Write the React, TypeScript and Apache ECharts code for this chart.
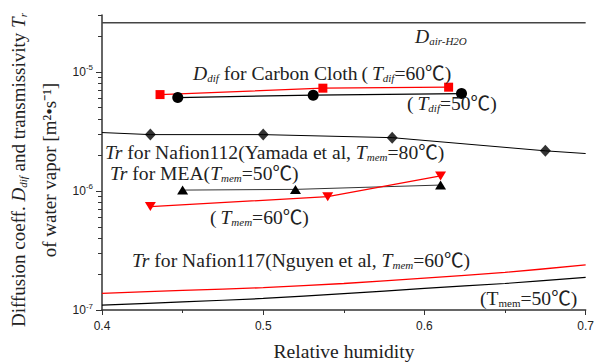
import React, { useEffect, useRef } from 'react';
import * as echarts from 'echarts';

// ---- data ----
const xTickValues = [0.4, 0.5, 0.6, 0.7];
const yMajorTicks = [1e-7, 1e-6, 1e-5];
const yMinorTicks = [
  2e-7, 3e-7, 4e-7, 5e-7, 6e-7, 7e-7, 8e-7, 9e-7,
  2e-6, 3e-6, 4e-6, 5e-6, 6e-6, 7e-6, 8e-6, 9e-6,
  2e-5, 3e-5,
];

const dAirH2O = [[0.4, 2.58e-5], [0.7, 2.58e-5]];
const clothT60 = [[0.436, 6.44e-6], [0.537, 7.29e-6], [0.615, 7.43e-6]];
const clothT50 = [[0.447, 6.08e-6], [0.531, 6.37e-6], [0.623, 6.57e-6]];
const nafion112Line = [
  [0.4, 3.09e-6], [0.43, 2.97e-6], [0.5, 2.97e-6], [0.58, 2.8e-6], [0.675, 2.17e-6], [0.7, 2.06e-6],
];
const nafion112Points = [[0.43, 2.97e-6], [0.5, 2.97e-6], [0.58, 2.8e-6], [0.675, 2.17e-6]];
const meaT50 = [[0.45, 1.016e-6], [0.52, 1.03e-6], [0.61, 1.12e-6]];
const meaT60 = [[0.43, 7.38e-7], [0.54, 8.95e-7], [0.61, 1.336e-6]];
const rhGrid = [0.4, 0.45, 0.5, 0.55, 0.6, 0.65, 0.7];
const nafion117T60 = [1.38e-7, 1.46e-7, 1.54e-7, 1.67e-7, 1.85e-7, 2.07e-7, 2.39e-7];
const nafion117T50 = [1.1e-7, 1.17e-7, 1.25e-7, 1.37e-7, 1.52e-7, 1.67e-7, 1.88e-7];

const SERIF = "'Liberation Serif', 'Noto Sans CJK JP', serif";
const SANS = "'Liberation Sans', Arial, sans-serif";
const INK = '#222';
const RED = '#ff0000';

function makeRich(fs: number) {
  return {
    n: { fontFamily: SERIF, fontSize: fs, fill: INK, color: INK, lineHeight: 20 },
    i: { fontStyle: 'italic', fontFamily: SERIF, fontSize: fs, fill: INK, color: INK, lineHeight: 20 },
    s: { fontStyle: 'italic', fontFamily: SERIF, fontSize: 11, fill: INK, color: INK, lineHeight: 6, verticalAlign: 'bottom' },
    u: { fontFamily: SERIF, fontSize: 11, fill: INK, color: INK, lineHeight: 6, verticalAlign: 'bottom' },
  };
}

function txt(x: number, y: number, text: string, fs = 19.6, extra: any = {}, styleExtra: any = {}) {
  return {
    type: 'text',
    x,
    y,
    z: 100,
    ...extra,
    style: {
      text,
      font: `${fs}px ${SERIF}`,
      fontFamily: SERIF,
      fontSize: fs,
      fill: INK,
      lineHeight: 20,
      align: 'left',
      verticalAlign: 'middle',
      rich: makeRich(fs),
      ...styleExtra,
    },
  };
}

export default function App() {
  const ref = useRef<HTMLDivElement>(null);

  useEffect(() => {
    if (!ref.current) return;
    const chart = echarts.init(ref.current, undefined, { renderer: 'svg' });
    const grid = { left: 102, top: 15, width: 487, height: 295 };
    const axisLineStyle = { color: '#333', width: 1.5 };

    const option: any = {
      animation: false,
      backgroundColor: '#fff',
      grid,
      xAxis: {
        type: 'value',
        min: 0.4,
        max: 0.7,
        interval: 0.1,
        axisLine: { show: true, onZero: false, lineStyle: axisLineStyle },
        axisTick: { show: true, inside: false, length: 5, lineStyle: { color: '#333', width: 1 }, customValues: xTickValues },
        minorTick: { show: true, splitNumber: 2, length: 3, lineStyle: { color: '#333', width: 1 } },
        splitLine: { show: false },
        axisLabel: {
          fontFamily: SANS,
          fontSize: 12,
          color: INK,
          margin: 10,
          customValues: xTickValues,
          formatter: (v: number) => v.toFixed(1),
        },
      },
      yAxis: [
        {
          type: 'log',
          logBase: 10,
          min: 1e-7,
          max: 3e-5,
          axisLine: { show: true, onZero: false, lineStyle: axisLineStyle },
          axisTick: { show: true, inside: false, length: 6, customValues: yMajorTicks, lineStyle: { color: '#333', width: 1 } },
          minorTick: { show: false },
          splitLine: { show: false },
          axisLabel: {
            customValues: yMajorTicks,
            fontFamily: SANS,
            fontSize: 12,
            color: INK,
            lineHeight: 16,
            margin: 9,
            formatter: (v: number) => `10{sup|${Math.round(Math.log10(v))}}`,
            rich: {
              sup: { fontFamily: SANS, fontSize: 8, color: INK, lineHeight: 6, verticalAlign: 'top' },
            },
          },
        },
        {
          type: 'log',
          logBase: 10,
          min: 1e-7,
          max: 3e-5,
          position: 'left',
          axisLine: { show: false },
          axisTick: { show: true, inside: false, length: 4, customValues: yMinorTicks, lineStyle: { color: '#333', width: 1 } },
          axisLabel: { show: false },
          splitLine: { show: false },
        },
      ],
      series: [
        {
          type: 'line',
          data: dAirH2O,
          symbol: 'none',
          lineStyle: { color: '#444', width: 1.5 },
        },
        {
          type: 'line',
          data: nafion112Line,
          symbol: 'none',
          lineStyle: { color: '#000', width: 1 },
        },
        {
          type: 'scatter',
          data: nafion112Points,
          symbol: 'diamond',
          symbolSize: [11, 12],
          itemStyle: { color: '#000' },
        },
        {
          type: 'line',
          data: clothT60,
          symbol: 'rect',
          symbolSize: 9,
          itemStyle: { color: RED },
          lineStyle: { color: RED, width: 1.2 },
        },
        {
          type: 'line',
          data: clothT50,
          symbol: 'circle',
          symbolSize: 11,
          itemStyle: { color: '#000' },
          lineStyle: { color: '#000', width: 1.2 },
        },
        {
          type: 'line',
          data: meaT50,
          symbol: 'triangle',
          symbolSize: [11, 9],
          itemStyle: { color: '#000' },
          lineStyle: { color: '#333', width: 1 },
        },
        {
          type: 'line',
          data: meaT60,
          symbol: 'triangle',
          symbolRotate: 180,
          symbolSize: [11, 9],
          itemStyle: { color: RED },
          lineStyle: { color: RED, width: 1.2 },
        },
        {
          type: 'line',
          data: rhGrid.map((x, i) => [x, nafion117T60[i]]),
          symbol: 'none',
          smooth: 0.3,
          lineStyle: { color: RED, width: 1.3 },
        },
        {
          type: 'line',
          data: rhGrid.map((x, i) => [x, nafion117T50[i]]),
          symbol: 'none',
          smooth: 0.3,
          lineStyle: { color: '#000', width: 1.2 },
        },
      ],
      graphic: [
        txt(18, 170, '{n|Diffusion coeff. }{i|D}{s|dif}{n| and transmissivity }{i|T}{s|r}', 19, { rotation: Math.PI / 2 }, { align: 'center' }),
        txt(49, 170, '{n|of water vapor [m²•s⁻¹]}', 19, { rotation: Math.PI / 2 }, { align: 'center' }),
        txt(344, 351, '{n|Relative humidity}', 19.6, {}, { align: 'center' }),
        txt(415, 36, '{i|D}{s|air-H2O}'),
        txt(193, 73.5, '{i|D}{s|dif}{n| for Carbon Cloth\u2009(\u2009}{i|T}{s|dif}{n|=60℃)}'),
        txt(407, 103.5, '{n|(\u2009}{i|T}{s|dif}{n|=50℃)}'),
        txt(105, 152, '{i|Tr}{n| for Nafion112(Yamada et al, }{i|T}{s|mem}{n|=80℃)}'),
        txt(110, 173.5, '{i|Tr}{n| for MEA(}{i|T}{s|mem}{n|=50℃)}'),
        txt(210, 217, '{n|(\u2009}{i|T}{s|mem}{n|=60℃)}'),
        txt(132, 260.5, '{i|Tr}{n| for Nafion117(Nguyen et al, }{i|T}{s|mem}{n|=60℃)}'),
        txt(480, 298.5, '{n|(T}{u|mem}{n|=50℃)}'),
      ],
    };

    chart.setOption(option);
    return () => chart.dispose();
  }, []);

  return (
    <div
      ref={ref}
      style={{ position: 'fixed', left: 0, top: 0, width: 597, height: 363, background: '#fff' }}
    />
  );
}
